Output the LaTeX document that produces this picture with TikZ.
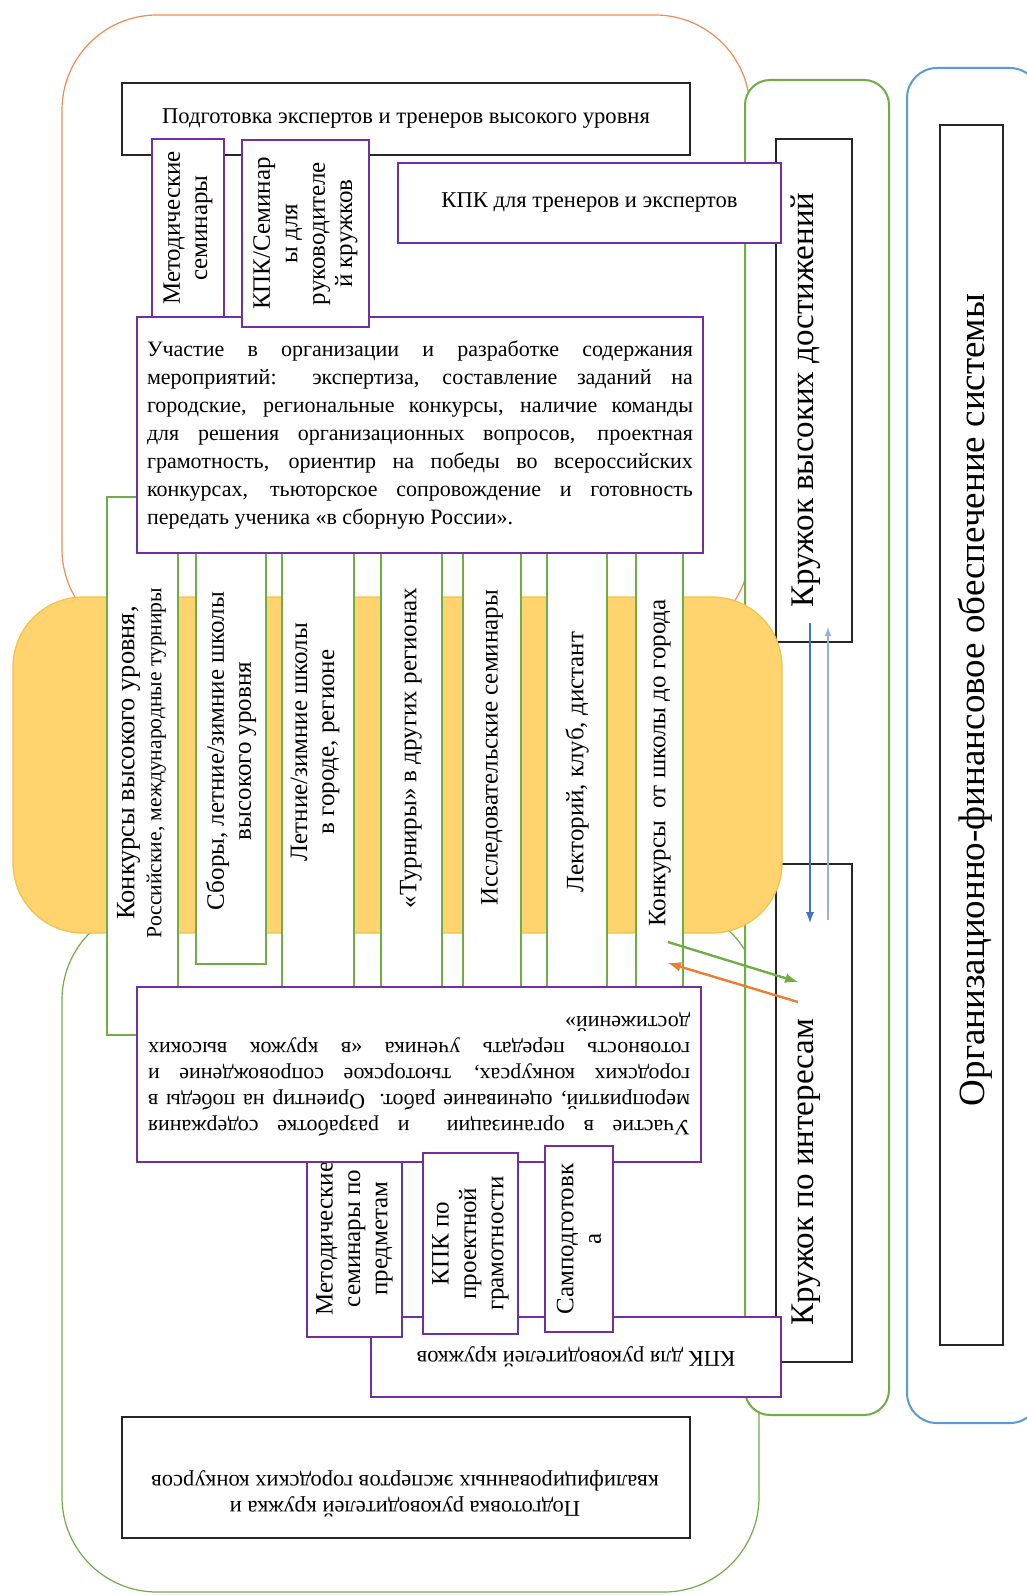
\documentclass[tikz,border=0pt]{standalone}
\usepackage{fontspec}
\setmainfont{Liberation Serif}
\usepackage{xcolor}
\usepackage{tikz}
\usetikzlibrary{arrows,positioning}
\definecolor{orline}{RGB}{238,140,85}
\definecolor{grn}{RGB}{112,173,71}
\definecolor{blu}{RGB}{91,155,213}
\definecolor{purp}{RGB}{112,48,160}
\definecolor{band}{RGB}{255,211,110}
\definecolor{bandedge}{RGB}{246,192,70}
\definecolor{arrblue}{RGB}{68,114,196}
\definecolor{arrlight}{RGB}{150,175,225}
\definecolor{arrorange}{RGB}{237,125,49}
\hyphenpenalty=10000
\exhyphenpenalty=10000

\begin{document}
\begin{tikzpicture}[x=0.5pt,y=-0.5pt,
	box/.style={draw=black!85, fill=white, line width=0.9pt, inner sep=0pt},
	pbox/.style={draw=purp, fill=white, line width=0.9pt, inner sep=0pt},
	col/.style={draw=grn, fill=white, line width=0.6pt, inner sep=0pt},
	btxt/.style={font=\fontsize{11.3}{13}\selectfont},
	ptxt/.style={font=\fontsize{11}{14}\selectfont},
	stxt/.style={align=center, font=\fontsize{12.5}{13.7}\selectfont},
	ctxt/.style={inner sep=0pt, rotate=90, align=center, font=\fontsize{12.5}{13.5}\selectfont},
	ktxt/.style={inner sep=0pt, rotate=90, font=\fontsize{16.5}{20}\selectfont}]
\useasboundingbox (0,0) rectangle (1027,1595);
\clip (0,0) rectangle (1027,1595);
\fill[white] (0,0) rectangle (1027,1595);

\draw[orline, line width=0.6pt, rounded corners=47.5pt] (62,15) rectangle (750,644);
\draw[grn, line width=0.6pt, rounded corners=47.5pt] (62,905) rectangle (759,1592);

\node[col, draw=grn, line width=1pt, rounded corners=12.5pt, minimum width=72pt, minimum height=667.5pt] (grp) at (817,747.5) {};
\node[box, minimum width=38pt, minimum height=251.5pt] (krhi) at (814,390.5) {};
\node[box, minimum width=38pt, minimum height=249pt] (krint) at (814,1113) {};
\node[ktxt] (krhit) at (806,400) {Кружок высоких достижений};
\node[ktxt] (krintt) at (806,1172) {Кружок по интересам};

\node[draw=blu, fill=white, line width=1pt, rounded corners=15pt, minimum width=66.5pt, minimum height=677.5pt] (sys) at (973.5,745.5) {};
\node[box, minimum width=31.5pt, minimum height=610pt] (org) at (971.5,735) {};
\node[ktxt, font=\fontsize{18.5}{22}\selectfont] (orgt) at (975,700) {Организационно-финансовое обеспечение системы};

\draw[bandedge, fill=band, line width=0.6pt, rounded corners=35pt] (13,597) rectangle (782,933);

\node[col, minimum width=35.5pt, minimum height=269pt] (c1) at (142.5,766) {};
\node[col, minimum width=35pt, minimum height=212pt] (c2) at (231,752) {};
\node[col, minimum width=36pt, minimum height=230pt] (c3) at (318,770) {};
\node[col, minimum width=30.5pt, minimum height=230pt] (c4) at (411.5,770) {};
\node[col, minimum width=29pt, minimum height=230pt] (c5) at (492,770) {};
\node[col, minimum width=30pt, minimum height=230pt] (c6) at (577,770) {};
\node[col, minimum width=23.5pt, minimum height=230pt] (c7) at (659.5,770) {};
\node[ctxt] (t1) at (141.5,763) {{\fontsize{13.2}{13.5}\selectfont Конкурсы высокого уровня,}\\{\fontsize{10.8}{13.5}\selectfont Российские, международные турниры}};
\node[ctxt] (t2) at (231,751) {Сборы, летние/зимние школы\\высокого уровня};
\node[ctxt] (t3) at (315,742) {Летние/зимние школы\\в городе, регионе};
\node[ctxt] (t4) at (411,748) {«Турниры» в других регионах};
\node[ctxt] (t5) at (492,748) {Исследовательские семинары};
\node[ctxt] (t6) at (577,762) {Лекторий, клуб, дистант};
\node[ctxt] (t7) at (660,763) {Конкурсы \ от школы до города};

\node[pbox, ptxt, minimum width=283pt, minimum height=118pt, text width=273pt, align=justify] (ptop) at (420,435) {Участие в организации и разработке содержания\linebreak
мероприятий: экспертиза, составление заданий на\linebreak
городские, региональные конкурсы, наличие команды\linebreak
для решения организационных вопросов, проектная\linebreak
грамотность, ориентир на победы во всероссийских\linebreak
конкурсах, тьюторское сопровождение и готовность\linebreak
передать ученика «в сборную России».};
\node[box, btxt, minimum width=284pt, minimum height=36pt] (prephi) at (406,119) {Подготовка экспертов и тренеров высокого уровня};
\node[pbox, stxt, rotate=90, minimum width=89pt, minimum height=36pt] (mstop) at (188,228) {Методические\\семинары};
\node[pbox, stxt, rotate=90, minimum width=93.5pt, minimum height=63.5pt] (kpksem) at (305.5,233.5) {КПК/Семинар\\ы для\\руководителе\\й кружков};
\node[pbox, btxt, minimum width=191.5pt, minimum height=40pt] (kpktr) at (589.5,203) {КПК для тренеров и экспертов};

\node[pbox, btxt, rotate=180, minimum width=205pt, minimum height=40pt] (kpkruk) at (576,1357) {КПК для руководителей кружков};
\node[pbox, stxt, rotate=90, minimum width=98.5pt, minimum height=47.5pt] (msbot) at (354.5,1238.5) {Методические\\семинары по\\предметам};
\node[pbox, ptxt, font=\fontsize{11}{13}\selectfont, rotate=180, minimum width=282pt, minimum height=87.5pt, text width=271pt, align=justify] (pbot) at (419,1074.5) {Участие в организации \ и разработке содержания\linebreak
мероприятий, оценивание работ. Ориентир на победы в\linebreak
городских конкурсах, тьюторское сопровождение и\linebreak
готовность передать ученика «в кружок высоких\linebreak
достижений»};
\node[pbox, stxt, rotate=90, minimum width=90.5pt, minimum height=47.5pt] (kpkpr) at (470.5,1243.5) {КПК по\\проектной\\грамотности};
\node[pbox, stxt, rotate=90, minimum width=93pt, minimum height=34pt] (samo) at (579,1239) {Самподготовк\\а};

\node[box, minimum width=284pt, minimum height=60.5pt] (prepcity) at (406,1477.5) {};
\node[btxt, rotate=180, align=center, inner sep=0pt] (prepcityt) at (405,1494) {Подготовка руководителей кружка и\\квалифицированных экспертов городских конкурсов};

\coordinate (a1) at (810,623);
\coordinate (a2) at (810,923);
\coordinate (b1) at (828,920);
\coordinate (b2) at (828,627);
\coordinate (g1) at (668,942);
\coordinate (g2) at (798,982);
\coordinate (o1) at (798,1002);
\coordinate (o2) at (668,963);
	\path[draw, arrblue, line width=0.9pt, -latex] (a1) -- (a2);
	\path[draw, arrlight, line width=0.6pt, -latex] (b1) -- (b2);
	\path[draw, grn, line width=1.2pt, -latex] (g1) -- (g2);
	\path[draw, arrorange, line width=1.2pt, -latex] (o1) -- (o2);
\end{tikzpicture}
\end{document}
